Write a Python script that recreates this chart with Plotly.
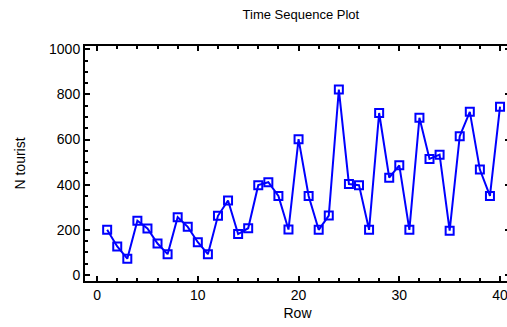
import plotly.graph_objects as go

rows = list(range(1, 41))
n_tourist = [200, 126, 72, 240, 206, 139, 92, 256, 213, 145,
             92, 262, 330, 181, 207, 398, 411, 350, 201, 602,
             350, 200, 263, 822, 403, 398, 200, 718, 431, 486,
             200, 697, 514, 533, 196, 615, 723, 467, 350, 746]

x_ticks = [0, 10, 20, 30, 40]
y_ticks = [0, 200, 400, 600, 800, 1000]

blue = "#0000ff"
font = "Liberation Sans, Arial, sans-serif"

fig = go.Figure()
fig.add_trace(go.Scatter(
    x=rows, y=n_tourist, mode="lines+markers",
    line=dict(color=blue, width=2),
    marker=dict(symbol="square-open", size=8, color=blue, line=dict(width=2, color=blue)),
    showlegend=False, cliponaxis=False,
))

axis_common = dict(
    showgrid=False, zeroline=False, showline=True, linecolor="black", linewidth=2,
    ticks="inside", ticklen=5, tickwidth=2, tickcolor="black", mirror="ticks",
    tickfont=dict(family=font, size=14, color="black"),
)

fig.update_xaxes(
    range=[-1.2, 40.99], tickvals=x_ticks, ticktext=[str(v) for v in x_ticks],
    title=dict(text="Row", font=dict(family=font, size=14, color="black"), standoff=6),
    minor=dict(dtick=2, tick0=0, ticks="inside", ticklen=3, tickwidth=1.5, tickcolor="black"),
    **axis_common,
)
fig.update_yaxes(
    range=[-27, 1015], tickvals=y_ticks, ticktext=[str(v) for v in y_ticks],
    title=dict(text="N tourist", font=dict(family=font, size=14, color="black"), standoff=20),
    minor=dict(dtick=50, tick0=0, ticks="inside", ticklen=3, tickwidth=1.5, tickcolor="black"),
    **axis_common,
)

fig.update_layout(
    width=520, height=327,
    margin=dict(l=85, r=8, t=46, b=46),
    paper_bgcolor="white", plot_bgcolor="white",
    title=dict(text="Time Sequence Plot", xref="paper", x=0.508, xanchor="center",
               yref="container", y=0.955, yanchor="middle",
               font=dict(family=font, size=13, color="black")),
)

fig.write_html("out.html", config={"displayModeBar": False},
               post_script="document.body.style.margin='0';document.body.style.overflow='hidden';")
